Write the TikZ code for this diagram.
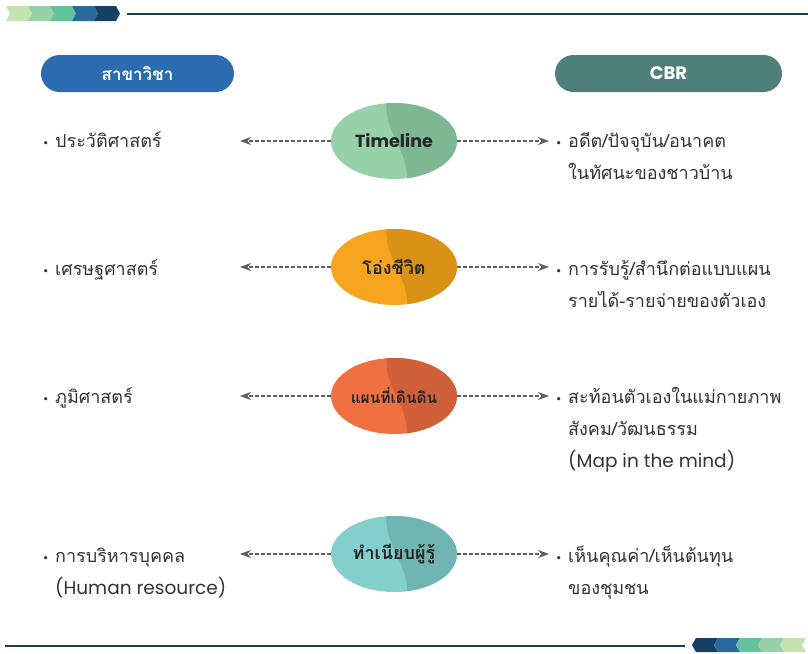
\documentclass[tikz,border=0pt]{standalone}
\usepackage{fontspec}
\setmainfont{Poppins}
\newfontfamily\thai[Script=Thai]{Loma}
\usetikzlibrary{shapes.geometric,arrows.meta,calc}
\definecolor{chA}{HTML}{C5E3B0}
\definecolor{chB}{HTML}{98D0A8}
\definecolor{chC}{HTML}{64C29E}
\definecolor{chD}{HTML}{2A6A9E}
\definecolor{chE}{HTML}{163F66}
\definecolor{navy}{HTML}{1B3A5C}
\definecolor{hdrblue}{HTML}{2B6BAF}
\definecolor{hdrteal}{HTML}{4E7F7A}
\definecolor{txt}{HTML}{333333}
\definecolor{arrowgray}{HTML}{5E5E5E}
\definecolor{g1}{HTML}{96D1A9}\definecolor{g2}{HTML}{7DB892}
\definecolor{o1}{HTML}{F7A51E}\definecolor{o2}{HTML}{D99216}
\definecolor{r1}{HTML}{F07041}\definecolor{r2}{HTML}{D0603A}
\definecolor{t1}{HTML}{84CFCB}\definecolor{t2}{HTML}{6FB5B1}
\tikzset{
  twotone/.style 2 args={ellipse, minimum width=126pt, minimum height=76pt, inner sep=0pt,
    fill=#1, text=black!85, font=\thai\bfseries\fontsize{18}{20}\selectfont,
    path picture={\fill[#2] ($(path picture bounding box.center)+(-7pt,45pt)$) -- ++(80pt,0pt) -- ++(0pt,-90pt)
      -- ($(path picture bounding box.center)+(13pt,-45pt)$)
      .. controls ($(path picture bounding box.center)+(16pt,-5pt)$) and ($(path picture bounding box.center)+(-12pt,5pt)$)
      .. ($(path picture bounding box.center)+(-7pt,45pt)$) -- cycle;}},
  hdr/.style={rounded corners=18.5pt, minimum height=37pt, inner sep=0pt, text=white,
    font=\thai\bfseries\fontsize{17}{20}\selectfont},
  line/.style={anchor=base west, inner sep=0pt, text=txt, font=\thai\fontsize{18}{20}\selectfont},
  latinline/.style={line, font=\fontsize{18.5}{20}\selectfont},
  bul/.style={anchor=base west, inner sep=0pt, text=txt, font=\fontsize{13}{20}\selectfont},
  dasharrow/.style={draw=arrowgray, dash pattern=on 3.5pt off 2.5pt, line width=1.1pt,
    -{Stealth[length=11pt,width=8pt]}},
}
\begin{document}
\begin{tikzpicture}[x=1pt,y=-1pt]
\useasboundingbox (0,0) rectangle (808,653);
% top chevrons
\foreach \x/\c in {6/chA,28/chB,50/chC,72/chD,94/chE}{
  \fill[\c] (\x,6) -- (\x+22,6) -- (\x+26,13.5) -- (\x+22,21) -- (\x,21) -- (\x+4,13.5) -- cycle;}
\draw[navy, line width=2pt] (127,14) -- (808,14);
% bottom chevrons
\foreach \x/\c in {692/chE,714/chD,736/chC,758/chB,780/chA}{
  \fill[\c] (\x,645) -- (\x+4,638) -- (\x+26,638) -- (\x+22,645) -- (\x+26,652) -- (\x+4,652) -- cycle;}
\draw[navy, line width=2pt] (5,646) -- (685,646);
% headers
\node[hdr, fill=hdrblue, minimum width=193pt] (h1) at (137.5,73.5) {สาขาวิชา};
\node[hdr, fill=hdrteal, minimum width=227pt, font=\bfseries\fontsize{18}{20}\selectfont] (h2) at (668.5,73.5) {CBR};
% ellipses
\node[twotone={g1}{g2}, font=\bfseries\fontsize{17.5}{20}\selectfont] (e1) at (394,141) {\makebox[0pt]{Timeline}};
\node[twotone={o1}{o2}] (e2) at (394,267) {\makebox[0pt]{โอ่งชีวิต}};
\node[twotone={r1}{r2}, font=\thai\bfseries\fontsize{15.5}{20}\selectfont] (e3) at (394,396) {\makebox[0pt]{แผนที่เดินดิน}};
\node[twotone={t1}{t2}] (e4) at (394,554) {\makebox[0pt]{ทำเนียบผู้รู้}};
% arrow ends
\coordinate (la1) at (240,141); \coordinate (ra1) at (549,141);
\coordinate (la2) at (240,267); \coordinate (ra2) at (549,267);
\coordinate (la3) at (240,396); \coordinate (ra3) at (549,396);
\coordinate (la4) at (240,554); \coordinate (ra4) at (549,554);
\foreach \i in {1,2,3,4}{
  \draw[dasharrow] (e\i.west) -- (la\i);
  \draw[dasharrow] (e\i.east) -- (ra\i);}
% left texts
\node[bul] (lb1) at (43,147) {•}; \node[line] (lt1) at (55,147) {ประวัติศาสตร์};
\node[bul] (lb2) at (43,275) {•}; \node[line] (lt2) at (55,275) {เศรษฐศาสตร์};
\node[bul] (lb3) at (43,403) {•}; \node[line] (lt3) at (55,403) {ภูมิศาสตร์};
\node[bul] (lb4) at (43,562) {•}; \node[line] (lt4) at (55,562) {การบริหารบุคคล};
\node[latinline] (lt4b) at (55,594) {(Human resource)};
% right texts
\node[bul] (rb1) at (556,147) {•}; \node[line] (rt1) at (568,147) {อดีต/ปัจจุบัน/อนาคต};
\node[line] (rt1b) at (568,179) {ในทัศนะของชาวบ้าน};
\node[bul] (rb2) at (556,275) {•}; \node[line] (rt2) at (568,275) {การรับรู้/สำนึกต่อแบบแผน};
\node[line] (rt2b) at (568,307) {รายได้-รายจ่ายของตัวเอง};
\node[bul] (rb3) at (556,403) {•}; \node[line] (rt3) at (568,403) {สะท้อนตัวเองในแม่กายภาพ};
\node[line] (rt3b) at (568,435) {สังคม/วัฒนธรรม};
\node[latinline] (rt3c) at (568,467) {(Map in the mind)};
\node[bul] (rb4) at (556,562) {•}; \node[line] (rt4) at (568,562) {เห็นคุณค่า/เห็นต้นทุน};
\node[line] (rt4b) at (568,594) {ของชุมชน};
\end{tikzpicture}
\end{document}
